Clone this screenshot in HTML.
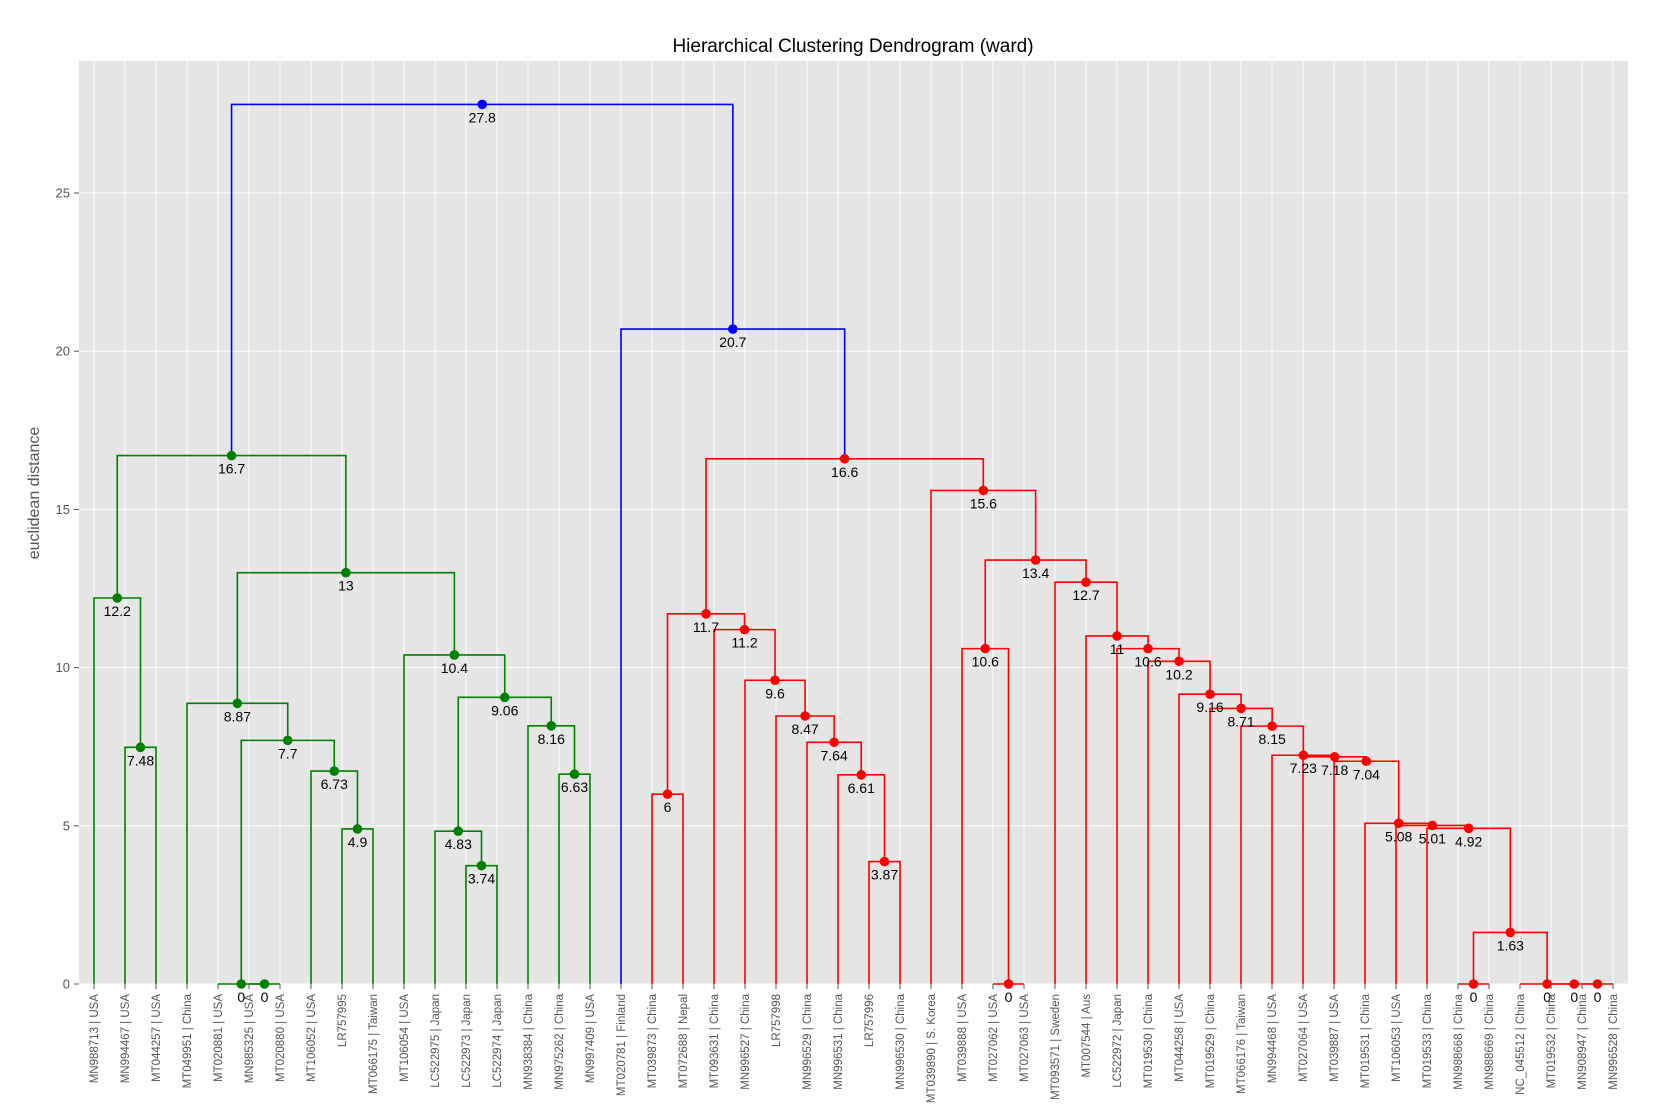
<!DOCTYPE html>
<html><head><meta charset="utf-8"><style>
html,body{margin:0;padding:0;background:#fff;}
svg{display:block;font-family:"Liberation Sans","DejaVu Sans",sans-serif;}
</style></head><body>
<svg id="chart" width="1661" height="1111" viewBox="0 0 1661 1111">
<rect x="79" y="61" width="1549" height="923" fill="#e5e5e5"/>
<g id="grid"></g>
<g id="links"></g>
<g id="nodes"></g>
<g id="yaxis"></g>
<g id="xaxis"></g>
<text x="853" y="52" text-anchor="middle" font-size="19" fill="#000">Hierarchical Clustering Dendrogram (ward)</text>
<text transform="translate(39,493) rotate(-90)" text-anchor="middle" font-size="16" fill="#555">euclidean distance</text>
</svg>
<script>
const leafLabels = ["MN988713 | USA","MN994467 | USA","MT044257 | USA","MT049951 | China","MT020881 | USA","MN985325 | USA","MT020880 | USA","MT106052 | USA","LR757995","MT066175 | Taiwan","MT106054 | USA","LC522975 | Japan","LC522973 | Japan","LC522974 | Japan","MN938384 | China","MN975262 | China","MN997409 | USA","MT020781 | Finland","MT039873 | China","MT072688 | Nepal","MT093631 | China","MN996527 | China","LR757998","MN996529 | China","MN996531 | China","LR757996","MN996530 | China","MT039890 | S. Korea","MT039888 | USA","MT027062 | USA","MT027063 | USA","MT093571 | Sweden","MT007544 | Aus","LC522972 | Japan","MT019530 | China","MT044258 | USA","MT019529 | China","MT066176 | Taiwan","MN994468 | USA","MT027064 | USA","MT039887 | USA","MT019531 | China","MT106053 | USA","MT019533 | China","MN988668 | China","MN988669 | China","NC_045512 | China","MT019532 | China","MN908947 | China","MN996528 | China"];
const mergeLeft  = [1,0,5,4,8,7,53,3,12,11,15,14,59,10,57,51,18,25,24,23,22,21,20,66,29,28,44,48,47,46,76,43,42,41,40,39,38,37,36,35,34,33,32,31,75,27,73,17,65];
const mergeRight = [2,50,6,52,9,54,55,56,13,58,16,60,61,62,63,64,19,26,67,68,69,70,71,72,30,74,45,49,77,78,79,80,81,82,83,84,85,86,87,88,89,90,91,92,93,94,95,96,97];
const mergeHeight= [7.48,12.2,0,0,4.9,6.73,7.7,8.87,3.74,4.83,6.63,8.16,9.06,10.4,13,16.7,6,3.87,6.61,7.64,8.47,9.6,11.2,11.7,0,10.6,0,0,0,0,1.63,4.92,5.01,5.08,7.04,7.18,7.23,8.15,8.71,9.16,10.2,10.6,11,12.7,13.4,15.6,16.6,20.7,27.8];
const mergeColor = ["g","g","g","g","g","g","g","g","g","g","g","g","g","g","g","g","r","r","r","r","r","r","r","r","r","r","r","r","r","r","r","r","r","r","r","r","r","r","r","r","r","r","r","r","r","r","r","b","b"];
const yTicks = [0,5,10,15,20,25];

const NS="http://www.w3.org/2000/svg";
const colMap={g:"#008000",r:"#ff0000",b:"#0000ff"};
const N=leafLabels.length;
const xLeaf=i=>94+i*(1613-94)/(N-1);
const yScale=v=>984-v*31.64;
function mk(tag,attrs,parent){const e=document.createElementNS(NS,tag);for(const k in attrs)e.setAttribute(k,attrs[k]);parent.appendChild(e);return e;}
const grid=document.getElementById('grid'),links=document.getElementById('links'),nodes=document.getElementById('nodes'),yax=document.getElementById('yaxis'),xax=document.getElementById('xaxis');

yTicks.forEach(t=>{
  const y=yScale(t);
  const gl=mk('line',{x1:79,x2:1628,y1:y,y2:y,stroke:'#fff','stroke-width':1},grid);
  
  
  const tk=mk('line',{x1:74,x2:79,y1:y,y2:y,stroke:'#555','stroke-width':1},yax);
  
  
  const tl=mk('text',{x:70,y:y+4.5,'text-anchor':'end','font-size':13,fill:'#555'},yax);
  tl.textContent=t;
  
  
});
leafLabels.forEach((lab,i)=>{
  const x=xLeaf(i);
  const gl=mk('line',{x1:x,x2:x,y1:61,y2:984,stroke:'#fff','stroke-width':1},grid);
  
  
  const tk=mk('line',{x1:x,x2:x,y1:984,y2:989,stroke:'#555','stroke-width':1},xax);
  
  
  const t=mk('text',{transform:`translate(${x+4},994) rotate(-90)`,'text-anchor':'end','font-size':11.5,fill:'#555'},xax);
  t.textContent=lab;
  
  
});

const pos=[],hgt=[];
for(let i=0;i<N;i++){pos[i]=xLeaf(i);hgt[i]=0;}
mergeHeight.forEach((h,k)=>{
  const a=mergeLeft[k],b=mergeRight[k],id=N+k;
  const xa=pos[a],xb=pos[b],c=colMap[mergeColor[k]];
  const y=yScale(h);
  const p=mk('path',{d:`M${xa},${yScale(hgt[a])}V${y}H${xb}V${yScale(hgt[b])}`,fill:'none',stroke:c,'stroke-width':1.6},links);
  
  
  pos[id]=(xa+xb)/2;hgt[id]=h;
  const d=mk('circle',{cx:pos[id],cy:y,r:4.8,fill:c},nodes);
  
  
  const t=mk('text',{x:pos[id],y:y+18,'text-anchor':'middle','font-size':14,fill:'#000'},nodes);
  t.textContent=String(Number(h.toPrecision(3)));
  
  
});
</script>
</body></html>
